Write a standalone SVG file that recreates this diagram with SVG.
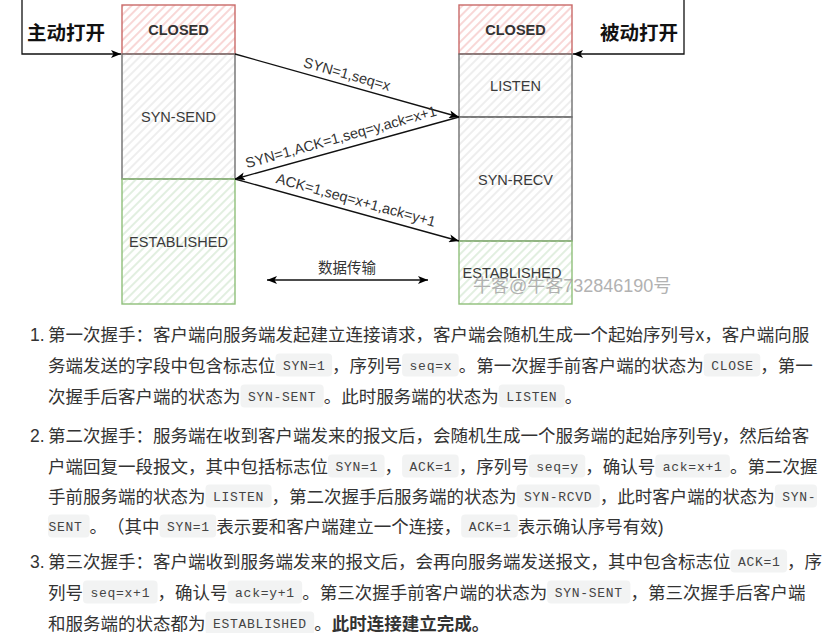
<svg xmlns="http://www.w3.org/2000/svg" width="833" height="633" viewBox="0 0 833 633">
<defs>
<pattern id="hr" width="6" height="6" patternUnits="userSpaceOnUse" patternTransform="rotate(45)"><line x1="1" y1="0" x2="1" y2="6" stroke="#f4bcbb" stroke-width="1.2"/></pattern>
<pattern id="hg" width="6" height="6" patternUnits="userSpaceOnUse" patternTransform="rotate(45)"><line x1="1" y1="0" x2="1" y2="6" stroke="#e2e2e2" stroke-width="1.2"/></pattern>
<pattern id="hn" width="6" height="6" patternUnits="userSpaceOnUse" patternTransform="rotate(45)"><line x1="1" y1="0" x2="1" y2="6" stroke="#cfe4cc" stroke-width="1.2"/></pattern>
<marker id="ah" markerWidth="10" markerHeight="8" refX="10" refY="4" orient="auto-start-reverse" markerUnits="userSpaceOnUse"><path d="M0,0 L10,4 L0,8 L2.5,4 z" fill="#000"/></marker>
</defs>
<style>
.red{fill:url(#hr);stroke:#c96a68;stroke-width:1.4}
.gry{fill:url(#hg);stroke:#6f6f6f;stroke-width:1.4}
.grn{fill:url(#hn);stroke:#8fbf7a;stroke-width:1.4}
.bl{font-family:"Liberation Sans",Arial,sans-serif;font-size:14.5px;fill:#3a3a3a;text-anchor:middle}
.bb{font-weight:bold;fill:#333}
.cn{font-family:"Liberation Sans","Noto Sans CJK SC",sans-serif;font-size:19.5px;font-weight:bold;fill:#111}
.ln{fill:none;stroke:#111;stroke-width:1.3}
.el{font-family:"Liberation Sans",Arial,sans-serif;font-size:14.5px;fill:#333;text-anchor:middle}
.t{font-family:"Liberation Sans","Noto Sans CJK SC",sans-serif;font-size:17.5px;fill:#333}
.c{font-family:"Liberation Mono","Courier New",monospace;font-size:13px;letter-spacing:0.72px;fill:#444}
.cb{fill:#f2f3f3}
.wm{font-family:"Liberation Sans","Noto Sans CJK SC",sans-serif;font-size:18px;fill:#a0a0a0;opacity:0.8}
</style>
<rect width="833" height="633" fill="#fff"/>

<g id="client-closed"><rect class="red" x="122" y="5" width="113" height="49"/><text class="bl bb" x="178.5" y="35">CLOSED</text></g>
<g id="client-syn-send"><rect class="gry" x="122" y="54" width="113" height="125"/><text class="bl" x="178.5" y="122">SYN-SEND</text></g>
<g id="client-established"><rect class="grn" x="122" y="179" width="113" height="125"/><text class="bl" x="178.5" y="247">ESTABLISHED</text></g>

<g id="server-closed"><rect class="red" x="459" y="5" width="113" height="49"/><text class="bl bb" x="515.5" y="35">CLOSED</text></g>
<g id="server-listen"><rect class="gry" x="459" y="54" width="113" height="63"/><text class="bl" x="515.5" y="91">LISTEN</text></g>
<g id="server-syn-recv"><rect class="gry" x="459" y="117" width="113" height="124"/><text class="bl" x="515.5" y="185">SYN-RECV</text></g>
<g id="server-established"><rect class="grn" x="459" y="241" width="113" height="63"/><text class="bl" x="512" y="278">ESTABLISHED</text></g>

<g id="active-open"><text class="cn" x="27" y="40">主动打开</text></g>
<g id="passive-open"><text class="cn" x="600" y="40">被动打开</text></g>

<g id="connectors">
<path class="ln" d="M22,0 V54 H121" marker-end="url(#ah)"/>
<path class="ln" d="M684,0 V54 H573" marker-end="url(#ah)"/>
<line class="ln" x1="235" y1="54" x2="459" y2="117" marker-end="url(#ah)"/>
<line class="ln" x1="459" y1="117" x2="235" y2="179" marker-end="url(#ah)"/>
<line class="ln" x1="235" y1="179" x2="459" y2="241" marker-end="url(#ah)"/>
<line class="ln" x1="267" y1="280" x2="428" y2="280" marker-start="url(#ah)" marker-end="url(#ah)"/>
<text class="el" transform="translate(347,74) rotate(15.7)" y="5">SYN=1,seq=x</text>
<text class="el" transform="translate(341,137) rotate(-15.5)" y="5">SYN=1,ACK=1,seq=y,ack=x+1</text>
<text class="el" transform="translate(356,200) rotate(15.5)" y="5">ACK=1,seq=x+1,ack=y+1</text>
<text class="el" x="347" y="273" style="font-family:'Liberation Sans','Noto Sans CJK SC',sans-serif">数据传输</text>
</g>

<text class="wm" x="473" y="292">牛客@牛客732846190号</text>

<g id="list">
<text class="t" x="30" y="340.5">1.</text>
<text class="t" x="48" y="340.5">第一次握手：客户端向服务端发起建立连接请求，客户端会随机生成一个起始序列号x，客户端向服</text>
<text class="t" x="48" y="371.5">务端发送的字段中包含标志位</text>
<rect class="cb" x="275.5" y="353.5" width="56.6" height="23" rx="4"/><text class="c" x="283" y="370">SYN=1</text>
<text class="t" x="332.1" y="371.5">，序列号</text>
<rect class="cb" x="402.1" y="353.5" width="56.6" height="23" rx="4"/><text class="c" x="409.6" y="370">seq=x</text>
<text class="t" x="458.7" y="371.5">。第一次握手前客户端的状态为</text>
<rect class="cb" x="703.7" y="353.5" width="56.6" height="23" rx="4"/><text class="c" x="711.2" y="370">CLOSE</text>
<text class="t" x="760.3" y="371.5">，第一</text>
<text class="t" x="48" y="402.5">次握手后客户端的状态为</text>
<rect class="cb" x="240.5" y="384.5" width="83.2" height="23" rx="4"/><text class="c" x="248" y="401">SYN-SENT</text>
<text class="t" x="323.7" y="402.5">。此时服务端的状态为</text>
<rect class="cb" x="498.7" y="384.5" width="66.1" height="23" rx="4"/><text class="c" x="506.2" y="401">LISTEN</text>
<text class="t" x="564.8" y="402.5">。</text>

<text class="t" x="30" y="441.5">2.</text>
<text class="t" x="48" y="441.5">第二次握手：服务端在收到客户端发来的报文后，会随机生成一个服务端的起始序列号y，然后给客</text>
<text class="t" x="48" y="472.5">户端回复一段报文，其中包括标志位</text>
<rect class="cb" x="328" y="454.5" width="56.6" height="23" rx="4"/><text class="c" x="335.5" y="471">SYN=1</text>
<text class="t" x="384.6" y="472.5">，</text>
<rect class="cb" x="402.1" y="454.5" width="56.6" height="23" rx="4"/><text class="c" x="409.6" y="471">ACK=1</text>
<text class="t" x="458.7" y="472.5">，序列号</text>
<rect class="cb" x="528.7" y="454.5" width="56.6" height="23" rx="4"/><text class="c" x="536.2" y="471">seq=y</text>
<text class="t" x="585.3" y="472.5">，确认号</text>
<rect class="cb" x="655.3" y="454.5" width="74.6" height="23" rx="4"/><text class="c" x="662.8" y="471">ack=x+1</text>
<text class="t" x="729.9" y="472.5">。第二次握</text>
<text class="t" x="48" y="502.5">手前服务端的状态为</text>
<rect class="cb" x="205.5" y="484.5" width="66.1" height="23" rx="4"/><text class="c" x="213" y="501">LISTEN</text>
<text class="t" x="271.6" y="502.5">，第二次握手后服务端的状态为</text>
<rect class="cb" x="516.6" y="484.5" width="83.2" height="23" rx="4"/><text class="c" x="524.1" y="501">SYN-RCVD</text>
<text class="t" x="599.8" y="502.5">，此时客户端的状态为</text>
<rect class="cb" x="774.8" y="484.5" width="42.2" height="23" rx="4"/><text class="c" x="782.3" y="501">SYN-</text>
<rect class="cb" x="48" y="514.5" width="41.6" height="23" rx="4"/><text class="c" x="48.5" y="531">SENT</text>
<text class="t" x="89.6" y="532.5">。</text>
<text class="t" x="107.1" y="532.5" font-family="'Noto Sans CJK SC',sans-serif">（其中</text>
<rect class="cb" x="159.6" y="514.5" width="56.6" height="23" rx="4"/><text class="c" x="167.1" y="531">SYN=1</text>
<text class="t" x="216.2" y="532.5">表示要和客户端建立一个连接，</text>
<rect class="cb" x="461.2" y="514.5" width="56.6" height="23" rx="4"/><text class="c" x="468.7" y="531">ACK=1</text>
<text class="t" x="517.8" y="532.5">表示确认序号有效)</text>

<text class="t" x="30" y="567.5">3.</text>
<text class="t" x="48" y="567.5">第三次握手：客户端收到服务端发来的报文后，会再向服务端发送报文，其中包含标志位</text>
<rect class="cb" x="730.5" y="549.5" width="56.6" height="23" rx="4"/><text class="c" x="738" y="566">ACK=1</text>
<text class="t" x="787.1" y="567.5">，序</text>
<text class="t" x="48" y="598.5">列号</text>
<rect class="cb" x="83" y="580.5" width="74.6" height="23" rx="4"/><text class="c" x="90.5" y="597">seq=x+1</text>
<text class="t" x="157.6" y="598.5">，确认号</text>
<rect class="cb" x="227.6" y="580.5" width="74.6" height="23" rx="4"/><text class="c" x="235.1" y="597">ack=y+1</text>
<text class="t" x="302.2" y="598.5">。第三次握手前客户端的状态为</text>
<rect class="cb" x="547.2" y="580.5" width="83.2" height="23" rx="4"/><text class="c" x="554.7" y="597">SYN-SENT</text>
<text class="t" x="630.4" y="598.5">，第三次握手后客户端</text>
<text class="t" x="48" y="629.5">和服务端的状态都为</text>
<rect class="cb" x="205.5" y="611.5" width="108.7" height="23" rx="4"/><text class="c" x="213" y="628">ESTABLISHED</text>
<text class="t" x="314.2" y="629.5">。</text>
<text class="t" x="331.7" y="629.5" font-weight="bold">此时连接建立完成。</text>
</g>
</svg>
